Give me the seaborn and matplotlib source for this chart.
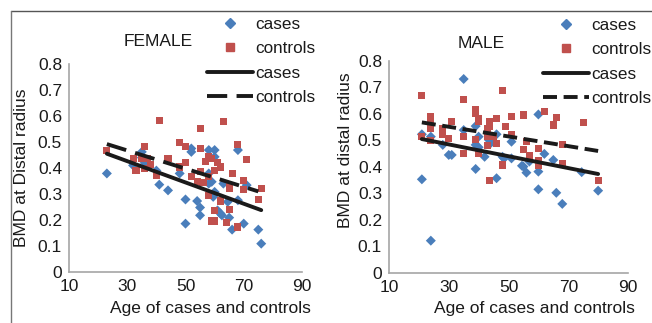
import numpy as np
import pandas as pd
import seaborn as sns
import matplotlib.pyplot as plt
from matplotlib.lines import Line2D

# female data
f_case_age = [23, 32, 35, 35, 36, 40, 41, 44, 48, 50, 50, 52, 52, 54, 55, 55, 58, 58, 58, 59,
              60, 60, 59.5, 60, 61, 62, 62.5, 63, 64.5, 65, 66, 68, 68, 70, 71, 75, 76]
f_case_bmd = [0.379, 0.41, 0.462, 0.44, 0.42, 0.39, 0.336, 0.314, 0.379, 0.279, 0.186, 0.475, 0.462,
              0.273, 0.248, 0.218, 0.469, 0.379, 0.34, 0.347, 0.469, 0.443, 0.289, 0.308, 0.237,
              0.225, 0.218, 0.34, 0.27, 0.209, 0.163, 0.469, 0.276, 0.186, 0.334, 0.163, 0.109]
f_ctrl_age = [23, 32, 33, 35, 36, 36, 37, 38, 40, 41, 44, 48, 48, 50, 50, 52, 54, 55, 55, 55, 56,
              57, 58, 58, 58, 59, 59, 60, 60, 60, 61, 62, 62, 63, 64, 65, 65, 65, 66, 68, 68, 70,
              70, 71, 75, 76]
f_ctrl_bmd = [0.469, 0.437, 0.392, 0.437, 0.484, 0.398, 0.437, 0.415, 0.372, 0.584, 0.437, 0.497,
              0.404, 0.484, 0.42, 0.369, 0.347, 0.552, 0.475, 0.385, 0.343, 0.426, 0.443, 0.366,
              0.295, 0.437, 0.196, 0.392, 0.237, 0.196, 0.42, 0.404, 0.273, 0.578, 0.19, 0.334,
              0.321, 0.24, 0.379, 0.49, 0.173, 0.353, 0.317, 0.434, 0.28, 0.321]

# male data
m_case_age = [21, 21, 24, 24, 28, 30, 31, 35, 35, 39, 39, 39, 40, 40, 42, 43.5, 44, 46, 46, 48,
              48.5, 51, 51, 54.5, 55, 56, 57, 60, 60, 60, 62, 65, 66, 68, 74.5, 80]
m_case_bmd = [0.523, 0.353, 0.121, 0.514, 0.483, 0.445, 0.445, 0.732, 0.539, 0.554, 0.483, 0.392,
              0.514, 0.474, 0.438, 0.501, 0.489, 0.523, 0.357, 0.438, 0.432, 0.495, 0.432, 0.404,
              0.401, 0.378, 0.42, 0.598, 0.382, 0.315, 0.449, 0.426, 0.302, 0.26, 0.38, 0.31]
m_ctrl_age = [21, 21, 24, 24, 24, 24, 28, 28, 30, 31, 35, 35, 35, 39, 39, 39, 40, 40, 40, 43, 43,
              43, 43.5, 43.5, 43.5, 45, 46, 46, 48, 48, 49, 51, 51, 55, 55, 56, 57, 60, 60, 60,
              62, 65, 66, 68, 68, 75, 80]
m_ctrl_bmd = [0.668, 0.514, 0.59, 0.574, 0.546, 0.501, 0.546, 0.523, 0.508, 0.571, 0.653, 0.514,
              0.449, 0.615, 0.602, 0.504, 0.583, 0.571, 0.451, 0.546, 0.514, 0.48, 0.571, 0.554,
              0.35, 0.514, 0.583, 0.489, 0.688, 0.407, 0.552, 0.59, 0.523, 0.596, 0.467, 0.495,
              0.442, 0.47, 0.423, 0.407, 0.608, 0.558, 0.586, 0.486, 0.413, 0.567, 0.35]

# trend lines (end values)
f_fit_age = [23, 76]
f_fit_cases = [0.455, 0.238]
f_fit_ctrl_age = [23, 75]
f_fit_ctrl = [0.492, 0.31]
m_fit_age = [21, 80]
m_fit_cases = [0.505, 0.373]
m_fit_ctrl = [0.568, 0.46]

blue = '#4a7ebb'
red = '#c0504d'
grey_spine = '#a6a6a6'
txt = '#1a1a1a'

sns.set_style('white')
plt.rcParams['font.family'] = ['Liberation Sans', 'DejaVu Sans']
plt.rcParams['text.color'] = txt
plt.rcParams['axes.labelcolor'] = txt
plt.rcParams['xtick.color'] = txt
plt.rcParams['ytick.color'] = txt

fig = plt.figure(figsize=(6.52, 3.23), dpi=100)
W, H = 652, 323

def make_df(ca, cb, ka, kb):
    return pd.concat([
        pd.DataFrame({'age': ca, 'bmd': cb, 'group': 'cases'}),
        pd.DataFrame({'age': ka, 'bmd': kb, 'group': 'controls'}),
    ])

def panel(rect, df, fits, dash, title, title_xy, ylabel, ylab_xy, xlab_x, leg_xy):
    ax = fig.add_axes(rect)
    sns.scatterplot(data=df, x='age', y='bmd', hue='group', style='group',
                    palette={'cases': blue, 'controls': red},
                    markers={'cases': 'D', 'controls': 's'},
                    s=26, linewidth=0, legend=False, ax=ax, zorder=2)
    for fx, fy, ls in fits:
        if ls == '--':
            ax.plot(fx, fy, color=txt, lw=2.8, dashes=dash, zorder=3)
        else:
            ax.plot(fx, fy, color=txt, lw=2.8, zorder=3)
    ax.set_xlim(10, 90)
    ax.set_ylim(0, 0.8)
    ax.set_xticks([10, 30, 50, 70, 90])
    ax.set_yticks(np.arange(0, 0.81, 0.1))
    ax.set_yticklabels(['0', '0.1', '0.2', '0.3', '0.4', '0.5', '0.6', '0.7', '0.8'])
    ax.tick_params(labelsize=12.5, length=3, width=1, color=grey_spine, pad=2)
    for s in ['top', 'right']:
        ax.spines[s].set_visible(False)
    for s in ['left', 'bottom']:
        ax.spines[s].set_color(grey_spine)
        ax.spines[s].set_linewidth(1.2)
    ax.set_xlabel('')
    ax.set_ylabel('')
    fig.text(title_xy[0] / W, 1 - title_xy[1] / H, title, fontsize=12.5,
             ha='center', va='center')
    fig.text(ylab_xy[0] / W, 1 - ylab_xy[1] / H, ylabel, fontsize=12.5,
             rotation=90, ha='center', va='center')
    fig.text(xlab_x / W, 1 - 308 / H, 'Age of cases and controls', fontsize=12.5,
             ha='center', va='center')
    handles = [
        Line2D([], [], ls='none', marker='D', color=blue, markersize=5.5),
        Line2D([], [], ls='none', marker='s', color=red, markersize=5.5),
        Line2D([], [], color=txt, lw=2.8),
        Line2D([], [], color=txt, lw=2.8, dashes=dash),
    ]
    ax.legend(handles, ['cases', 'controls', 'cases', 'controls'],
              loc='upper left', bbox_to_anchor=(leg_xy[0] / W, 1 - leg_xy[1] / H),
              bbox_transform=fig.transFigure, frameon=False, fontsize=12.3,
              handlelength=2.7, handletextpad=0.1, labelspacing=0.55,
              borderpad=0, borderaxespad=0)
    return ax

df_f = make_df(f_case_age, f_case_bmd, f_ctrl_age, f_ctrl_bmd)
df_m = make_df(m_case_age, m_case_bmd, m_ctrl_age, m_ctrl_bmd)

ax1 = panel([69 / W, 1 - 272 / H, 233 / W, 208 / H], df_f,
            [(f_fit_age, f_fit_cases, '-'), (f_fit_ctrl_age, f_fit_ctrl, '--')],
            (5.2, 2.4), 'FEMALE', (158, 42), 'BMD at Distal radius', (22, 168), 210, (207, 17))
ax2 = panel([389 / W, 1 - 272.7 / H, 239 / W, 211.7 / H], df_m,
            [(m_fit_age, m_fit_cases, '-'), (m_fit_age, m_fit_ctrl, '--')],
            (3.6, 1.7), 'MALE', (481, 43), 'BMD at distal radius', (345, 150), 534, (543, 18))

# outer frame lines (top and left)
fig.add_artist(Line2D([11 / W, 1], [1 - 11 / H, 1 - 11 / H], color='#555555', lw=1))
fig.add_artist(Line2D([11 / W, 11 / W], [0, 1 - 11 / H], color='#777777', lw=1))

fig.savefig('out.png', dpi=100)
